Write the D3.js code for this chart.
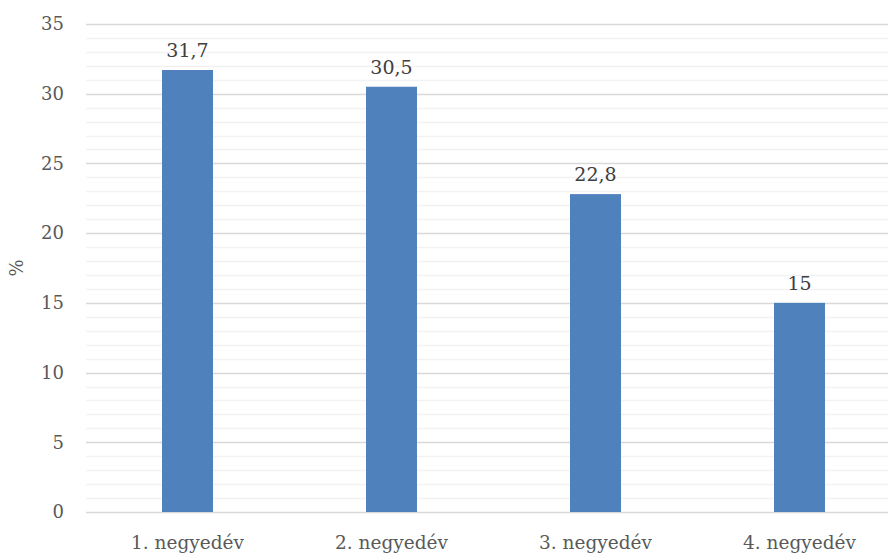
<!DOCTYPE html>
<html>
<head>
<meta charset="utf-8">
<script src="https://cdn.jsdelivr.net/npm/d3@7"></script>
<style>
  body { margin: 0; background: #fff; }
  svg text { font-family: "DejaVu Serif", serif; }
</style>
</head>
<body>
<script>
// Adatok
const categories = ["1. negyedév", "2. negyedév", "3. negyedév", "4. negyedév"];
const values = [31.7, 30.5, 22.8, 15];
const yTicks = [0, 5, 10, 15, 20, 25, 30, 35];

const W = 888, H = 555;
const plot = {left: 86, right: 888, top: 24, bottom: 512};

const svg = d3.select("body").append("svg")
  .attr("width", W)
  .attr("height", H);

const y = d3.scaleLinear().domain([0, 35]).range([plot.bottom, plot.top]);
const x = d3.scaleBand().domain(categories).range([85.5, 901.5]).padding(0);
const barW = x.bandwidth() * 0.25;

// Segédrácsvonalak (minden egész)
svg.append("g").selectAll("line")
  .data(d3.range(0, 36).filter(d => d % 5 !== 0))
  .enter().append("line")
  .attr("x1", plot.left).attr("x2", plot.right)
  .attr("y1", d => Math.round(y(d)) + 0.5).attr("y2", d => Math.round(y(d)) + 0.5)
  .style("stroke", "#f2f2f2").style("stroke-width", 1.5);

// Fő rácsvonalak
svg.append("g").selectAll("line")
  .data(yTicks)
  .enter().append("line")
  .attr("x1", plot.left).attr("x2", plot.right)
  .attr("y1", d => Math.round(y(d)) + 0.5).attr("y2", d => Math.round(y(d)) + 0.5)
  .style("stroke", "#d9d9d9").style("stroke-width", 1.5);

// Y tengely feliratok
svg.append("g").selectAll("text")
  .data(yTicks)
  .enter().append("text")
  .attr("x", 64).attr("y", d => y(d))
  .attr("dy", "0.35em")
  .attr("text-anchor", "end")
  .attr("font-size", 18)
  .attr("fill", "#595959")
  .text(d => d);

svg.append("text")
  .attr("transform", "translate(23," + 268 + ") rotate(-90)")
  .attr("text-anchor", "middle")
  .attr("font-size", 18)
  .attr("fill", "#595959")
  .text("%");

// Oszlopok
svg.append("g").selectAll("rect")
  .data(values)
  .enter().append("rect")
  .attr("x", (d, i) => x(categories[i]) + x.bandwidth() / 2 - barW / 2)
  .attr("width", barW)
  .attr("y", d => y(d))
  .attr("height", d => y(0) - y(d))
  .attr("fill", "#4f81bd");

// Értékcímkék
svg.append("g").selectAll("text")
  .data(values)
  .enter().append("text")
  .attr("x", (d, i) => x(categories[i]) + x.bandwidth() / 2)
  .attr("y", d => y(d) - 13)
  .attr("text-anchor", "middle")
  .attr("font-size", 19)
  .attr("fill", "#404040")
  .text(d => String(d).replace(".", ","));

// Kategória feliratok
svg.append("g").selectAll("text")
  .data(categories)
  .enter().append("text")
  .attr("x", d => x(d) + x.bandwidth() / 2)
  .attr("y", 549)
  .attr("text-anchor", "middle")
  .attr("font-size", 18.5)
  .attr("fill", "#595959")
  .text(d => d);
</script>
</body>
</html>
